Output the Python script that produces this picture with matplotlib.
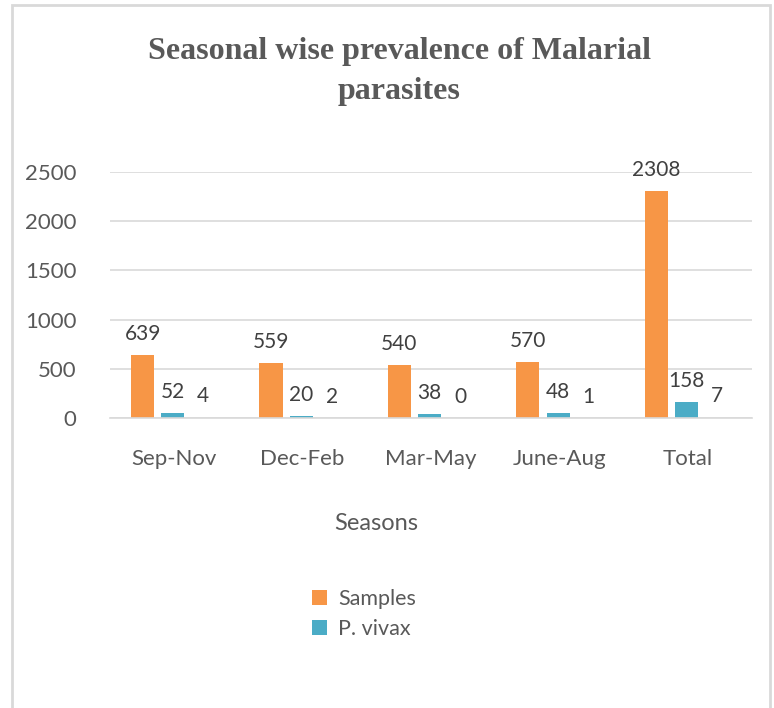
import numpy as np
import matplotlib.pyplot as plt
from matplotlib.patches import Rectangle

seasons = ["Sep-Nov", "Dec-Feb", "Mar-May", "June-Aug", "Total"]
samples = [639, 559, 540, 570, 2308]
p_vivax = [52, 20, 38, 48, 158]
p_falciparum = [4, 2, 0, 1, 7]

text_color = "#595959"
body_font = ["Lato", "DejaVu Sans"]

fig = plt.figure(figsize=(7.74, 7.08), dpi=100)

# light grey frame around the chart
fig.patches.append(Rectangle((12 / 774, -0.05), 758 / 774, 1 - 5 / 708 + 0.05,
                             transform=fig.transFigure, fill=False,
                             edgecolor="#d9d9d9", linewidth=2))

ax = fig.add_axes([110 / 774, 1 - 418 / 708, 642 / 774, (418 - 172) / 708])

x = np.arange(len(seasons))
w = 0.18
off = 0.226
b1 = ax.bar(x - off - 0.02, samples, w, color="#F79646", label="Samples")
b2 = ax.bar(x - 0.01, p_vivax, w, color="#4BACC6", label="P. vivax")
b3 = ax.bar(x + off, p_falciparum, w, color="none")

for bars in (b1, b2, b3):
    ax.bar_label(bars, padding=8, fontsize=15, color="#404040", family=body_font)

ax.set_xlim(-0.5, len(seasons) - 0.5)
ax.set_ylim(0, 2500)
ax.set_yticks([0, 500, 1000, 1500, 2000, 2500])
ax.set_xticks(x)
ax.set_xticklabels(seasons)
ax.yaxis.grid(True, color="#d9d9d9", linewidth=1.2)
ax.set_axisbelow(True)
for s in ["top", "right", "left"]:
    ax.spines[s].set_visible(False)
ax.spines["bottom"].set_color("#d9d9d9")
ax.spines["bottom"].set_linewidth(1.2)
ax.tick_params(length=0, labelsize=16, labelcolor=text_color)
ax.tick_params(axis="x", pad=22)
ax.tick_params(axis="y", pad=24)
for lbl in ax.get_xticklabels() + ax.get_yticklabels():
    lbl.set_family(body_font)

title_kw = dict(ha="center", va="center", fontsize=23, fontweight="bold",
                family="Liberation Serif", color=text_color)
fig.text(399 / 774, 1 - 52 / 708, "Seasonal wise prevalence of Malarial", **title_kw)
fig.text(399 / 774, 1 - 92 / 708, "parasites", **title_kw)

fig.text(376 / 774, 1 - 524 / 708, "Seasons", ha="center", va="center",
         fontsize=17, color=text_color, family=body_font)

fig.legend(handles=[b1, b2], loc="upper left",
           bbox_to_anchor=(293 / 774, 1 - 570 / 708), frameon=False,
           prop={"family": body_font, "size": 15.5}, labelcolor=text_color,
           handlelength=0.7, handleheight=0.7, handletextpad=0.5,
           labelspacing=0.45)

fig.savefig("out.png", dpi=100)
